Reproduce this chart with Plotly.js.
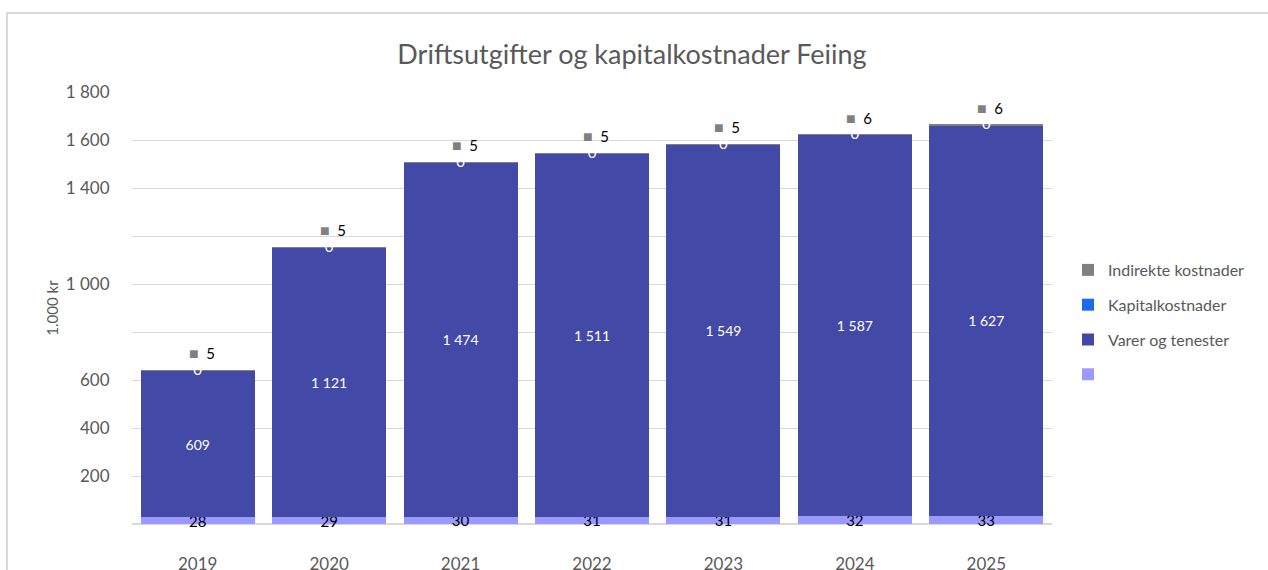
<!DOCTYPE html>
<html>
<head>
<meta charset="utf-8">
<script src="https://cdn.plot.ly/plotly-3.0.1.min.js"></script>
<style>
  html, body { margin: 0; padding: 0; background: #ffffff; overflow: hidden; width: 1268px; height: 570px; }
  #frame { position: absolute; left: 6px; top: 12px; width: 1400px; height: 700px;
           border-left: 2px solid #d9d9d9; border-top: 2px solid #d9d9d9; }
  #chart { position: absolute; left: 0; top: 0; width: 1300px; height: 570px; }
</style>
</head>
<body>
<div id="frame"></div>
<div id="chart"></div>
<script>
// ---- data ----
const years = ["2019", "2020", "2021", "2022", "2023", "2024", "2025"];
const baseValues = [28, 29, 30, 31, 31, 32, 33];
const varerValues = [609, 1121, 1474, 1511, 1549, 1587, 1627];
const kapitalValues = [0, 0, 0, 0, 0, 0, 0];
const indirekteValues = [5, 5, 5, 5, 5, 6, 6];
const yTickVals = [0, 200, 400, 600, 800, 1000, 1200, 1400, 1600, 1800];
const yTickText = ["", "200", "400", "600", "", "1 000", "", "1 400", "1 600", "1 800"];

const seriesNames = { base: " ", varer: "Varer og tenester", kapital: "Kapitalkostnader", indirekte: "Indirekte kostnader" };
const colors = { base: "#9999ff", varer: "#4349a6", kapital: "#1b6ae8", indirekte: "#808080" };

function fmt(v) {
  return String(v).replace(/\B(?=(\d{3})+(?!\d))/g, " ");
}

const FONT = "Lato, 'Liberation Sans', sans-serif";
const GREY = "#595959";

const barCommon = {
  type: "bar",
  x: years,
  textposition: "inside",
  insidetextanchor: "middle",
  textangle: 0,
  constraintext: "none",
  cliponaxis: false,
  hoverinfo: "x+y+name"
};

const traces = [
  Object.assign({}, barCommon, {
    name: seriesNames.base, y: baseValues, legendgroup: "a", legendrank: 4,
    marker: { color: colors.base, line: { width: 0 } },
    text: baseValues.map(fmt),
    textfont: { family: FONT, size: 15, color: "#000000" }
  }),
  Object.assign({}, barCommon, {
    name: seriesNames.varer, y: varerValues, legendgroup: "b", legendrank: 3,
    marker: { color: colors.varer, line: { width: 0 } },
    text: varerValues.map(fmt),
    textfont: { family: FONT, size: 14, color: "#ffffff" }
  }),
  Object.assign({}, barCommon, {
    name: seriesNames.kapital, y: kapitalValues, legendgroup: "c", legendrank: 2,
    marker: { color: colors.kapital, line: { width: 0 } },
    textposition: "none"
  }),
  Object.assign({}, barCommon, {
    name: seriesNames.indirekte, y: indirekteValues, legendgroup: "d", legendrank: 1,
    marker: { color: colors.indirekte, line: { width: 0 } },
    textposition: "none"
  })
];

// "0" labels for Kapitalkostnader (at top of its zero-height segment)
const kapTop = years.map((_, i) => baseValues[i] + varerValues[i] + kapitalValues[i]);
traces.push({
  type: "scatter", mode: "text", x: years, y: kapTop,
  text: kapitalValues.map(fmt), textposition: "middle center",
  textfont: { family: FONT, size: 15, color: "#ffffff" },
  showlegend: false, hoverinfo: "skip", cliponaxis: false
});

// labels for Indirekte kostnader with legend key
const totals = years.map((_, i) => baseValues[i] + varerValues[i] + kapitalValues[i] + indirekteValues[i]);
const annotations = years.map((yr, i) => ({
  x: i, y: totals[i], xref: "x", yref: "y",
  text: "<span style='color:#808080;font-size:16px'>■</span>  " + fmt(indirekteValues[i]),
  showarrow: false, yshift: 17, xshift: 4,
  font: { family: FONT, size: 15, color: "#000000" }
}));

const W = 1300;
const layout = {
  width: W, height: 570,
  paper_bgcolor: "rgba(0,0,0,0)", plot_bgcolor: "rgba(0,0,0,0)",
  margin: { l: 132, r: W - 1052, t: 92, b: 46, pad: 0 },
  separators: ", ",
  barmode: "stack",
  bargap: 0.133,
  font: { family: FONT, color: GREY },
  title: {
    text: "Driftsutgifter og kapitalkostnader Feiing",
    font: { family: FONT, size: 27, color: GREY },
    x: (632 - 132) / 920, xref: "paper", xanchor: "center",
    y: 1 - 55 / 570, yref: "container", yanchor: "middle"
  },
  xaxis: {
    type: "category",
    range: [-0.5, 6.5], autorange: false,
    showgrid: false, showline: false, zeroline: false,
    ticks: "outside", ticklen: 25, tickcolor: "rgba(0,0,0,0)",
    tickfont: { family: FONT, size: 17, color: GREY }
  },
  yaxis: {
    range: [0, 1800], autorange: false,
    tickvals: yTickVals, ticktext: yTickText,
    showgrid: true, gridcolor: "#d9d9d9", gridwidth: 1,
    zeroline: true, zerolinecolor: "#d9d9d9", zerolinewidth: 2,
    showline: false,
    ticks: "outside", ticklen: 18, tickcolor: "rgba(0,0,0,0)",
    tickfont: { family: FONT, size: 17, color: GREY },
    title: { text: "1.000 kr", font: { family: FONT, size: 15, color: GREY }, standoff: 3 }
  },
  legend: {
    x: (1068 - 132) / 920, xanchor: "left", y: (524 - 253) / 432, yanchor: "top",
    tracegroupgap: 11,
    font: { family: FONT, size: 16, color: GREY },
    bgcolor: "rgba(0,0,0,0)"
  },
  annotations: annotations,
  showlegend: true
};

Plotly.newPlot("chart", traces, layout, { displayModeBar: false, staticPlot: true });
</script>
</body>
</html>
